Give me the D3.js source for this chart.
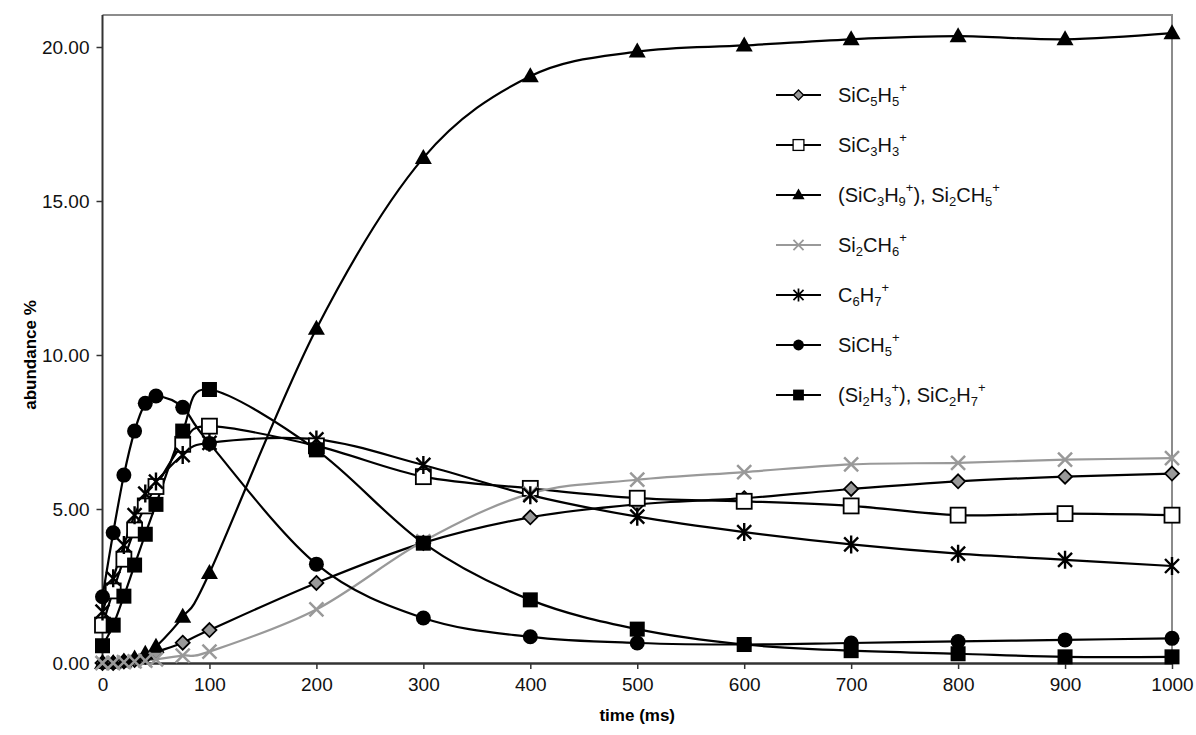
<!DOCTYPE html>
<html lang="en"><head>
<meta charset="utf-8">
<title>abundance vs time</title>
<script src="https://cdn.jsdelivr.net/npm/d3@7"></script>
<style>
  body { margin: 0; background: #fff; }
  text { font-family: "Liberation Sans", Arial, sans-serif; }
</style>
</head>
<body>
<script type="text/javascript">

var width = 1196;
var height = 735;

// time points (ms)
var times = [0, 10, 20, 30, 40, 50, 75, 100, 200, 300, 400, 500, 600, 700, 800, 900, 1000];

// abundance % for each ion
var sic5h5 = [0.0, 0.0, 0.05, 0.1, 0.2, 0.35, 0.66, 1.07, 2.6, 3.9, 4.73, 5.15, 5.35, 5.65, 5.9, 6.05, 6.15];
var sic3h3 = [1.23, 2.34, 3.37, 4.32, 5.1, 5.73, 7.1, 7.69, 7.05, 6.05, 5.67, 5.35, 5.25, 5.1, 4.8, 4.85, 4.8];
var si2ch5 = [0.0, 0.0, 0.05, 0.15, 0.3, 0.53, 1.5, 2.92, 10.85, 16.4, 19.05, 19.85, 20.05, 20.25, 20.35, 20.25, 20.45];
var si2ch6 = [0.0, 0.0, 0.03, 0.05, 0.08, 0.12, 0.24, 0.37, 1.74, 3.95, 5.5, 5.95, 6.2, 6.45, 6.5, 6.6, 6.65];
var c6h7 = [1.67, 2.75, 3.83, 4.8, 5.5, 5.89, 6.75, 7.15, 7.26, 6.43, 5.45, 4.75, 4.25, 3.85, 3.55, 3.35, 3.15];
var sich5 = [2.15, 4.23, 6.1, 7.53, 8.43, 8.67, 8.3, 7.13, 3.21, 1.46, 0.85, 0.65, 0.6, 0.65, 0.7, 0.75, 0.8];
var sic2h7 = [0.56, 1.23, 2.17, 3.18, 4.18, 5.15, 7.53, 8.88, 6.92, 3.89, 2.05, 1.1, 0.6, 0.4, 0.3, 0.2, 0.2];

var xTicks = [0, 100, 200, 300, 400, 500, 600, 700, 800, 900, 1000];
var yTicks = [0, 5, 10, 15, 20];

// legend labels: [text, "sub"/"sup"/""] pieces
var series = [
    {name: "SiC5H5+", values: sic5h5, marker: "diamond", color: "#000",
     label: [["SiC",""],["5","sub"],["H",""],["5","sub"],["+","sup"]]},
    {name: "SiC3H3+", values: sic3h3, marker: "openSquare", color: "#000",
     label: [["SiC",""],["3","sub"],["H",""],["3","sub"],["+","sup"]]},
    {name: "Si2CH5+", values: si2ch5, marker: "triangle", color: "#000",
     label: [["(SiC",""],["3","sub"],["H",""],["9","sub"],["+","sup"],["), Si",""],["2","sub"],["CH",""],["5","sub"],["+","sup"]]},
    {name: "Si2CH6+", values: si2ch6, marker: "cross", color: "#999",
     label: [["Si",""],["2","sub"],["CH",""],["6","sub"],["+","sup"]]},
    {name: "C6H7+", values: c6h7, marker: "star", color: "#000",
     label: [["C",""],["6","sub"],["H",""],["7","sub"],["+","sup"]]},
    {name: "SiCH5+", values: sich5, marker: "circle", color: "#000",
     label: [["SiCH",""],["5","sub"],["+","sup"]]},
    {name: "SiC2H7+", values: sic2h7, marker: "square", color: "#000",
     label: [["(Si",""],["2","sub"],["H",""],["3","sub"],["+","sup"],["), SiC",""],["2","sub"],["H",""],["7","sub"],["+","sup"]]}
];

var margin = {left: 102.5, right: 24, top: 15, bottom: 72};
var x = d3.scaleLinear().domain([0, 1000]).range([margin.left, width - margin.right]);
var y = d3.scaleLinear().domain([0, 20]).range([663, 47]);

var svg = d3.select("body").append("svg")
            .attr("width", width)
            .attr("height", height);

// plot frame (top and right in grey)
svg.append("path")
    .attr("d", "M" + x(0) + "," + margin.top + "H" + x(1000) + "V" + y(0))
    .attr("fill", "none")
    .attr("stroke", "#8c8c8c")
    .attr("stroke-width", 2);

var xAxis = svg.append("g")
    .attr("transform", "translate(0," + y(0) + ")")
    .call(d3.axisBottom(x).tickValues(xTicks).tickSize(6).tickSizeOuter(0).tickFormat(d3.format("d")));
xAxis.select(".domain").attr("stroke", "#333").attr("stroke-width", 2.5);
xAxis.selectAll(".tick line").attr("stroke", "#333").attr("stroke-width", 1.5);
xAxis.selectAll(".tick text")
    .attr("y", 15)
    .style("font-family", "'Liberation Sans Narrow', 'Liberation Sans', Arial, sans-serif")
    .style("font-size", "19px")
    .attr("fill", "#111");

var yAxis = svg.append("g")
    .attr("transform", "translate(" + x(0) + ",0)")
    .call(d3.axisLeft(y).tickValues(yTicks).tickSize(6).tickSizeOuter(0).tickFormat(d3.format(".2f")));
yAxis.select(".domain").attr("stroke", "#333").attr("stroke-width", 2)
    .attr("d", "M0," + margin.top + "V" + y(0));
yAxis.selectAll(".tick line").attr("stroke", "#333").attr("stroke-width", 1.5);
yAxis.selectAll(".tick text")
    .attr("x", -13)
    .style("font-size", "19px")
    .attr("fill", "#111");

svg.append("text")
    .attr("x", x(500))
    .attr("y", 721)
    .attr("text-anchor", "middle")
    .style("font-family", "'Liberation Sans Narrow', 'Liberation Sans', Arial, sans-serif")
    .style("font-weight", "bold")
    .style("font-size", "17px")
    .text("time (ms)");

svg.append("text")
    .attr("transform", "translate(36," + y(10) + ") rotate(-90)")
    .attr("text-anchor", "middle")
    .style("font-family", "'Liberation Sans Narrow', 'Liberation Sans', Arial, sans-serif")
    .style("font-weight", "bold")
    .style("font-size", "17px")
    .text("abundance %");

var line = d3.line()
    .x(function(d) { return x(d[0]); })
    .y(function(d) { return y(d[1]); })
    .curve(d3.curveCardinal.tension(0));

function drawMarker(g, type, color) {
    if (type === "diamond") {
        g.append("path").attr("d", "M0,-7L7,0L0,7L-7,0Z")
            .attr("fill", "#999").attr("stroke", "#000").attr("stroke-width", 1.8);
    } else if (type === "openSquare") {
        g.append("rect").attr("x", -7.5).attr("y", -7.5).attr("width", 15).attr("height", 15)
            .attr("fill", "#fff").attr("stroke", "#000").attr("stroke-width", 1.8);
    } else if (type === "square") {
        g.append("rect").attr("x", -7.5).attr("y", -7.5).attr("width", 15).attr("height", 15)
            .attr("fill", "#000");
    } else if (type === "triangle") {
        g.append("path").attr("d", "M0,-9L8.5,6L-8.5,6Z").attr("fill", "#000");
    } else if (type === "circle") {
        g.append("circle").attr("r", 7.5).attr("fill", "#000");
    } else if (type === "cross") {
        g.append("path").attr("d", "M-7,-7L7,7M-7,7L7,-7")
            .attr("stroke", color).attr("stroke-width", 2.5).attr("fill", "none");
    } else if (type === "star") {
        g.append("path").attr("d", "M-7,-7L7,7M-7,7L7,-7M0,-9V9")
            .attr("stroke", "#000").attr("stroke-width", 2.4).attr("fill", "none");
    }
}

// lines first, then markers
series.forEach(function(s) {
    var pts = times.map(function(t, i) { return [t, s.values[i]]; });
    svg.append("path")
        .datum(pts)
        .attr("d", line)
        .attr("fill", "none")
        .attr("stroke", s.color)
        .attr("stroke-width", 2.2);
});

series.forEach(function(s) {
    var g = svg.append("g");
    times.forEach(function(t, i) {
        var m = g.append("g").attr("transform", "translate(" + x(t) + "," + y(s.values[i]) + ")");
        drawMarker(m, s.marker, s.color);
    });
});

// legend
var legend = svg.append("g");
series.forEach(function(s, i) {
    var ly = 95 + i * 50;
    var row = legend.append("g").attr("transform", "translate(776," + ly + ")");
    row.append("line").attr("x1", 0).attr("x2", 45).attr("y1", 0).attr("y2", 0)
        .attr("stroke", s.color).attr("stroke-width", 2.2);
    var m = row.append("g");
    drawMarker(m, s.marker, s.color);
    m.attr("transform", "translate(22.5,0) scale(0.72)");
    var t = row.append("text").attr("x", 62).attr("y", 7).style("font-size", "20px").attr("fill", "#111");
    var shift = 0;
    s.label.forEach(function(p) {
        var target = p[1] === "sub" ? 4 : (p[1] === "sup" ? -10 : 0);
        var ts = t.append("tspan").text(p[0]).attr("dy", target - shift);
        if (p[1] !== "") ts.style("font-size", "13px");
        shift = target;
    });
});

</script>
</body></html>
